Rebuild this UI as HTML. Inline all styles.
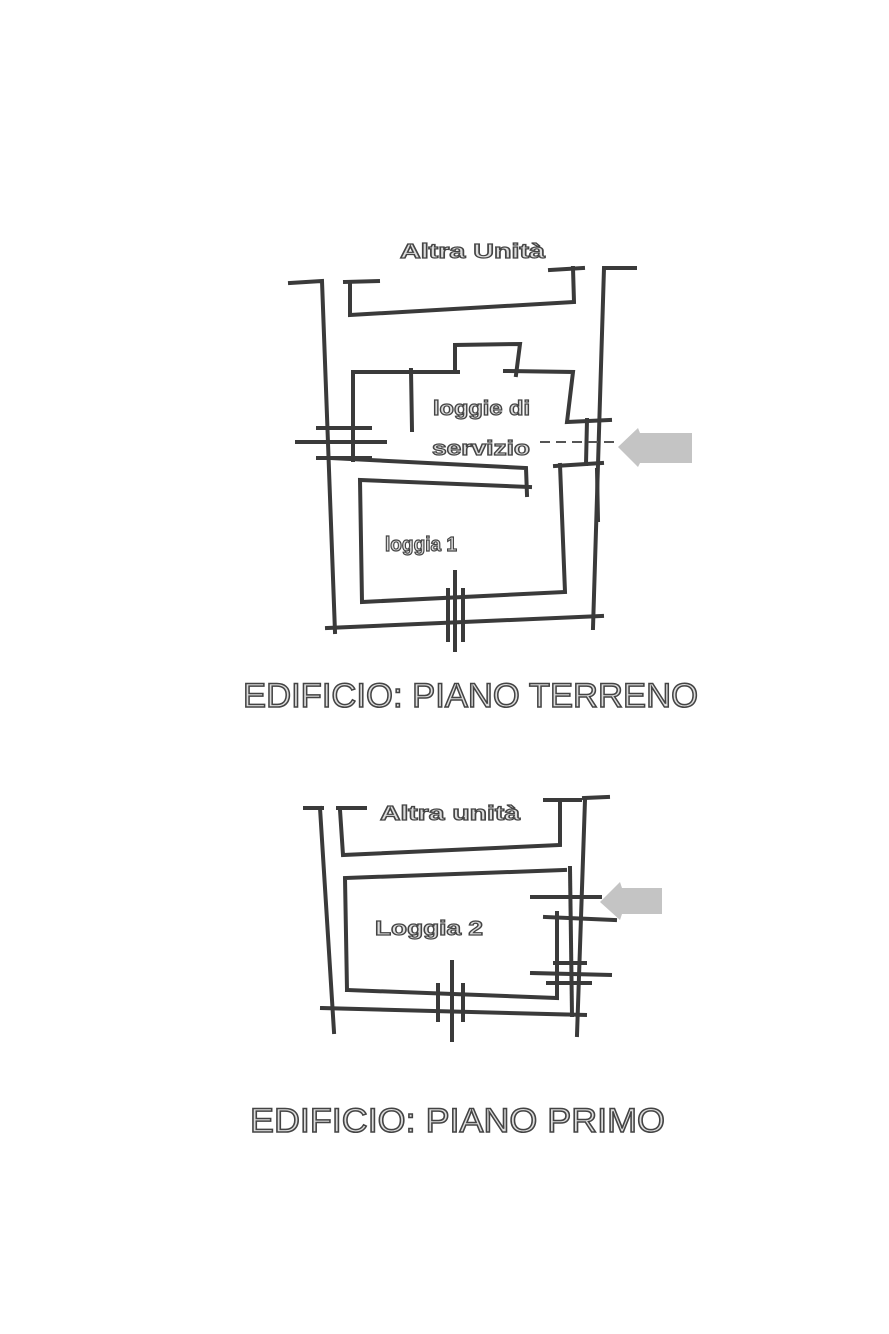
<!DOCTYPE html>
<html><head><meta charset="utf-8"><style>html,body{margin:0;padding:0;background:#fff}svg{display:block}</style></head>
<body>
<svg width="889" height="1334" viewBox="0 0 889 1334" xmlns="http://www.w3.org/2000/svg">
<rect width="889" height="1334" fill="#fff"/>
<g stroke="#3a3a3a" stroke-width="4" fill="none" stroke-linecap="square">
<!-- top plan -->
<polyline points="290,283 322,281 335,632"/>
<polyline points="327,628 602,616"/>
<polyline points="605,268 635,268"/>
<polyline points="604,268 593,628"/>
<polyline points="345,282 378,281"/>
<polyline points="350,282 350,315 574,302 573,268"/>
<polyline points="550,270 583,268"/>
<polyline points="353,460 353,372 458,372"/>
<polyline points="455,372 455,345 520,344 516,375"/>
<polyline points="505,371 573,372 567,422 610,420"/>
<polyline points="411,370 412,430"/>
<polyline points="330,458 526,468 527,495"/>
<polyline points="587,420 586,464"/>
<polyline points="555,466 602,463"/>
<polyline points="530,487 360,480 362,602 565,592 560,465"/>
<polyline points="448,590 448,640"/>
<polyline points="463,590 463,640"/>
<polyline points="455,572 455,650"/>
<polyline points="297,442 385,442"/>
<polyline points="318,428 370,428"/>
<polyline points="318,458 370,458"/>
<polyline points="597,470 598,520"/>
</g>
<line x1="540" y1="442" x2="620" y2="442" stroke="#555" stroke-width="2" stroke-dasharray="10,6"/>
<polygon points="618,447 638,428 640,433 692,433 692,463 640,463 638,467" fill="#c4c4c4"/>
<g font-family="Liberation Sans, sans-serif" fill="#ddd" stroke="#444" stroke-width="1.2" font-weight="bold">
<text x="400" y="258" font-size="20" textLength="145" lengthAdjust="spacingAndGlyphs">Altra Unità</text>
<text x="433" y="415" font-size="20" textLength="97" lengthAdjust="spacingAndGlyphs">loggie di</text>
<text x="432" y="455" font-size="20" textLength="98" lengthAdjust="spacingAndGlyphs">servizio</text>
<text x="385" y="551" font-size="20" textLength="72" lengthAdjust="spacingAndGlyphs">loggia 1</text>
<text x="380" y="820" font-size="20" textLength="140" lengthAdjust="spacingAndGlyphs">Altra unità</text>
<text x="375" y="935" font-size="20" textLength="108" lengthAdjust="spacingAndGlyphs">Loggia 2</text>
<text x="243" y="707" font-size="34" font-weight="normal" stroke-width="1.5" textLength="455" lengthAdjust="spacingAndGlyphs">EDIFICIO: PIANO TERRENO</text>
<text x="250" y="1132" font-size="34" font-weight="normal" stroke-width="1.5" textLength="415" lengthAdjust="spacingAndGlyphs">EDIFICIO: PIANO PRIMO</text>
</g>
<g stroke="#3a3a3a" stroke-width="4" fill="none" stroke-linecap="square">
<!-- first floor -->
<polyline points="305,808 322,808"/>
<polyline points="320,808 334,1032"/>
<polyline points="338,808 365,808"/>
<polyline points="340,810 343,855 560,845 560,800"/>
<polyline points="545,800 580,800"/>
<polyline points="584,798 608,797"/>
<polyline points="585,800 577,1035"/>
<polyline points="347,990 345,878 565,870"/>
<polyline points="347,990 557,998 557,913"/>
<polyline points="570,868 572,1015"/>
<polyline points="322,1008 585,1015"/>
<polyline points="438,985 438,1020"/>
<polyline points="463,985 463,1020"/>
<polyline points="452,962 452,1040"/>
<polyline points="532,897 600,897"/>
<polyline points="545,917 615,920"/>
<polyline points="532,973 610,975"/>
<polyline points="548,983 590,983"/>
<polyline points="555,963 585,963"/>
</g>
<polygon points="600,902 620,882 622,888 662,888 662,914 622,914 620,920" fill="#c4c4c4"/>
</svg>
</body></html>
